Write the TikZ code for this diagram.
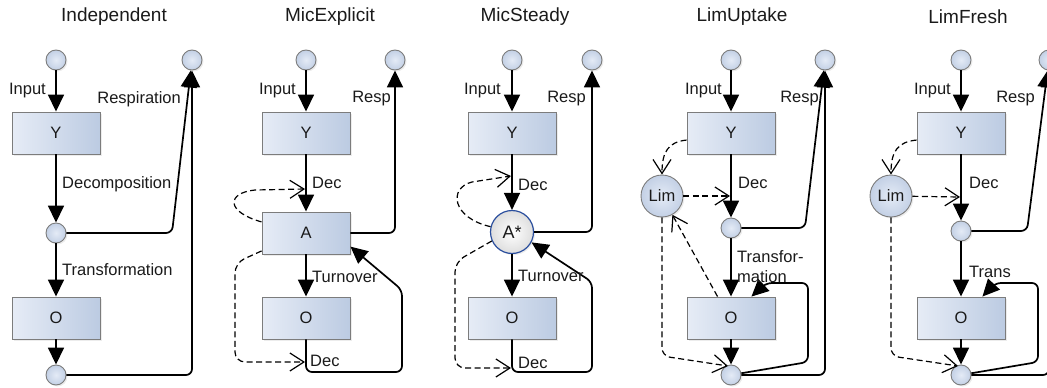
\documentclass[tikz,border=0pt]{standalone}
\usepackage{fontspec}
\setmainfont{Liberation Sans}
\usetikzlibrary{arrows.meta,shadows,calc}

\definecolor{boxleft}{HTML}{E6ECF6}
\definecolor{boxright}{HTML}{BCCBE2}
\definecolor{edgegray}{HTML}{7C7C7C}
\definecolor{portin}{HTML}{E4EBF6}
\definecolor{portout}{HTML}{C3D0E5}
\definecolor{astarrim}{HTML}{2B4F9E}
\definecolor{inktext}{HTML}{1A1A1A}

\newcommand\lblfont{\fontsize{16.5}{20}\selectfont}
\newcommand\ttlfont{\fontsize{19}{22}\selectfont}

\tikzset{
  pool/.style={rectangle, draw=edgegray, line width=0.9pt,
    left color=boxleft, right color=boxright,
    minimum width=88pt, minimum height=42pt, inner sep=0pt,
    font=\lblfont, text=inktext,
    drop shadow={opacity=0.15, shadow xshift=1.5pt, shadow yshift=-1.5pt}},
  port/.style={circle, draw=edgegray, line width=0.9pt,
    inner color=portin, outer color=portout,
    minimum size=20pt, inner sep=0pt,
    drop shadow={opacity=0.15, shadow xshift=1.5pt, shadow yshift=-1.5pt}},
  limnode/.style={circle, draw=edgegray, line width=0.9pt,
    inner color=portin, outer color=portout,
    minimum size=42pt, inner sep=0pt, font=\lblfont, text=inktext,
    drop shadow={opacity=0.15, shadow xshift=1.5pt, shadow yshift=-1.5pt}},
  astar/.style={circle, draw=astarrim, line width=1.2pt,
    inner color=white, outer color=black!13,
    minimum size=43pt, inner sep=0pt,
    font=\fontsize{18}{20}\selectfont, text=inktext,
    drop shadow={opacity=0.15, shadow xshift=1.5pt, shadow yshift=-1.5pt}},
  lbl/.style={font=\lblfont, inner sep=0pt, text=inktext},
  ttl/.style={font=\ttlfont, inner sep=0pt, text=inktext},
  flow/.style={draw=black, line width=1.7pt,
    -{Triangle[length=17pt, width=16pt]}},
  ctrl/.style={draw=black, line width=1.2pt, dash pattern=on 6pt off 3.5pt,
    -{Straight Barb[length=14pt, width=18pt, line width=1.2pt]}},
  loop/.style={flow, rounded corners=6pt},
}

\begin{document}
\begin{tikzpicture}[x=1pt, y=-1pt]
\useasboundingbox (0,0) rectangle (1047,388);

% ---------------- Independent ----------------
\node[ttl] at (114,17) {Independent};
\node[port] (p1in)  at (56,60) {};
\node[port] (p1out) at (192,60) {};
\node[pool] (p1Y) at (56,133) {Y};
\node[port] (p1m) at (56,233) {};
\node[pool] (p1O) at (56,318) {O};
\node[port] (p1b) at (56,375) {};
\draw[flow] (p1in) -- (p1Y);
\draw[flow] (p1Y) -- (p1m);
\draw[flow] (p1m) -- (p1O);
\draw[flow] (p1O) -- (p1b);
\draw[loop] (p1m) -- (172,233) -- (p1out);
\draw[loop] (p1b) -- (192,375) -- (p1out);
\node[lbl, anchor=east] at (46,91) {Input};
\node[lbl, anchor=east] at (181,99) {Respiration};
\node[lbl, anchor=west] at (62,184) {Decomposition};
\node[lbl, anchor=west] at (62,270) {Transformation};

% ---------------- MicExplicit ----------------
\node[ttl] at (330,17) {MicExplicit};
\node[port] (p2in)  at (306,60) {};
\node[port] (p2out) at (395,60) {};
\node[pool] (p2Y) at (306,133) {Y};
\node[pool] (p2A) at (306,233) {A};
\node[pool] (p2O) at (306,318) {O};
\coordinate (c2up) at (305,189);
\coordinate (c2dn) at (305,362);
\draw[flow] (p2in) -- (p2Y);
\draw[flow] (p2Y) -- (p2A);
\draw[flow] (p2A) -- (p2O);
\draw[loop] (p2A.east) -- (395,233) -- (p2out);
\draw[loop] (p2O.south) -- (306,372) -- (402,372) -- (402,290) -- (p2A.-17);
\draw[ctrl] (p2A.166) .. controls (226,212) and (226,193) .. (255,190) -- (c2up);
\draw[ctrl, rounded corners=10pt] (p2A.202) -- (235,263) -- (235,362) -- (c2dn);
\node[lbl, anchor=east] at (296,91) {Input};
\node[lbl, anchor=east] at (391,99) {Resp};
\node[lbl, anchor=west] at (312,183) {Dec};
\node[lbl, anchor=west] at (312,277) {Turnover};
\node[lbl, anchor=west] at (310,361) {Dec};

% ---------------- MicSteady ----------------
\node[ttl] at (525,17) {MicSteady};
\node[port] (p3in)  at (512,60) {};
\node[port] (p3out) at (592,60) {};
\node[pool] (p3Y) at (512,133) {Y};
\node[astar] (p3A) at (512,232) {A*};
\node[pool] (p3O) at (512,318) {O};
\coordinate (c3up) at (511,176);
\coordinate (c3dn) at (511,368);
\draw[flow] (p3in) -- (p3Y);
\draw[flow] (p3Y) -- (p3A);
\draw[flow] (p3A) -- (p3O);
\draw[loop] (p3A.east) -- (592,232) -- (p3out);
\draw[loop] (p3O.south) -- (512,372) -- (592,372) -- (592,282) -- (p3A.-28);
\draw[ctrl] (p3A.166) .. controls (452,218) and (448,188) .. (472,182) -- (c3up);
\draw[ctrl, rounded corners=10pt] (p3A.204) -- (455,262) -- (455,368) -- (c3dn);
\node[lbl, anchor=east] at (501,91) {Input};
\node[lbl, anchor=east] at (586,99) {Resp};
\node[lbl, anchor=west] at (518,185) {Dec};
\node[lbl, anchor=west] at (518,276) {Turnover};
\node[lbl, anchor=west] at (518,363) {Dec};

% ---------------- LimUptake ----------------
\node[ttl] at (742,17) {LimUptake};
\node[port] (p4in)  at (731,60) {};
\node[port] (p4out) at (825,60) {};
\node[pool] (p4Y) at (731,133) {Y};
\node[limnode] (p4L) at (662,196) {Lim};
\node[port] (p4m) at (731,228) {};
\node[pool] (p4O) at (731,318) {O};
\node[port] (p4b) at (731,375) {};
\coordinate (c4dec) at (730,196);
\coordinate (c4ret) at ($(p4O.north east)+(-24,0)$);
\coordinate (c4src) at ($(p4O.north west)+(31,0)$);
\coordinate (c4bot) at (728,366);
\draw[flow] (p4in) -- (p4Y);
\draw[flow] (p4Y) -- (p4m);
\draw[flow] (p4m) -- (p4O);
\draw[flow] (p4O) -- (p4b);
\draw[loop] (p4m) -- (805,228) -- (p4out);
\draw[loop] (p4b) -- (808,362) -- (808,283) -- (766,283) -- (c4ret);
\draw[loop] (p4b) -- (825,375) -- (p4out);
\draw[ctrl] (p4Y.189) .. controls (668,142) and (662,152) .. (p4L.north);
\draw[ctrl] (p4L) -- (c4dec);
\draw[ctrl] (c4src) -- (p4L);
\draw[ctrl, rounded corners=8pt] (p4L.south) -- (662,356) -- (c4bot);
\node[lbl, anchor=east] at (722,91) {Input};
\node[lbl, anchor=east] at (819,99) {Resp};
\node[lbl, anchor=west] at (738,183) {Dec};
\node[lbl, anchor=west, align=left] at (737,267) {Transfor-\\mation};

% ---------------- LimFresh ----------------
\node[ttl] at (968,17) {LimFresh};
\node[port] (p5in)  at (961,60) {};
\node[port] (p5out) at (1049,60) {};
\node[pool] (p5Y) at (961,133) {Y};
\node[limnode] (p5L) at (891,196) {Lim};
\node[port] (p5m) at (961,231) {};
\node[pool] (p5O) at (961,318) {O};
\node[port] (p5b) at (961,375) {};
\coordinate (c5dec) at (960,197);
\coordinate (c5ret) at ($(p5O.north east)+(-23,0)$);
\coordinate (c5bot) at (958,366);
\draw[flow] (p5in) -- (p5Y);
\draw[flow] (p5Y) -- (p5m);
\draw[flow] (p5m) -- (p5O);
\draw[flow] (p5O) -- (p5b);
\draw[loop] (p5m) -- (1027,231) -- (p5out);
\draw[loop] (p5b) -- (1038,362) -- (1038,283) -- (995,283) -- (c5ret);
\draw[loop] (p5b) -- (1049,375) -- (p5out);
\draw[ctrl] (p5Y.189) .. controls (897,142) and (891,152) .. (p5L.north);
\draw[ctrl] (p5L) -- (c5dec);
\draw[ctrl, rounded corners=8pt] (p5L.south) -- (891,356) -- (c5bot);
\node[lbl, anchor=east] at (951,91) {Input};
\node[lbl, anchor=east] at (1035,99) {Resp};
\node[lbl, anchor=west] at (969,183) {Dec};
\node[lbl, anchor=west] at (969,272) {Trans};
\end{tikzpicture}
\end{document}
